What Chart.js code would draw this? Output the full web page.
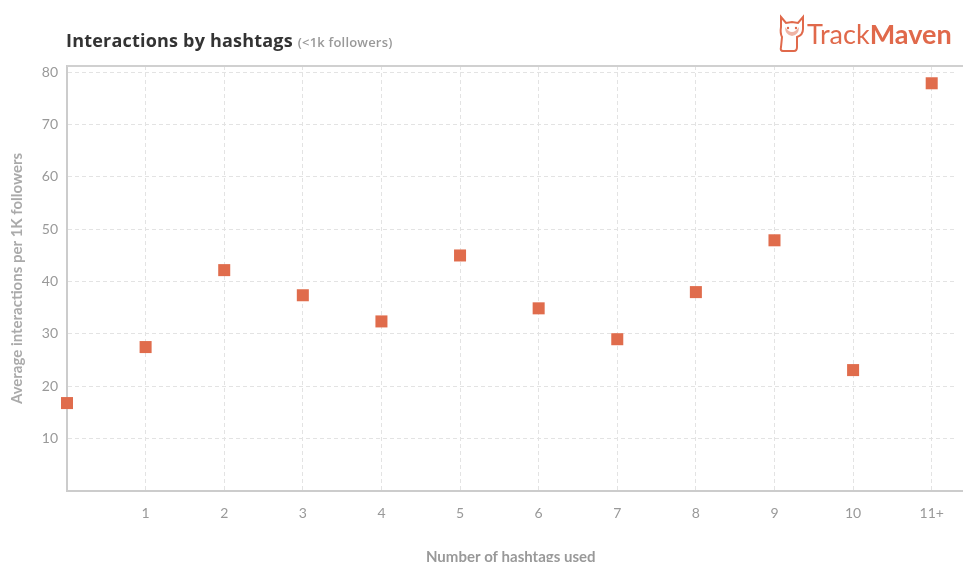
<!DOCTYPE html>
<html>
<head>
<meta charset="utf-8">
<script src="https://cdn.jsdelivr.net/npm/chart.js@4/dist/chart.umd.min.js"></script>
<style>
  body { margin: 0; background: #fff; font-family: Lato, "Open Sans", sans-serif; }
  #wrap { position: relative; width: 963px; height: 562px; overflow: hidden; }
  #title { position: absolute; left: 66px; top: 28px; font-family: "Open Sans"; font-size: 18px; font-weight: bold; color: #333; letter-spacing: 0.2px; }
  #title span { font-size: 13px; color: #999; font-weight: 600; }
  #logo { position: absolute; left: 777px; top: 13px; display: flex; align-items: center; color: #e0694b; font-size: 27px; }
  #logo b { font-weight: bold; }
  canvas { position: absolute; left: 0; top: 0; }
</style>
</head>
<body>
<div id="wrap">
  <canvas id="myChart" width="963" height="562"></canvas>
  <div id="title">Interactions by hashtags <span>(&lt;1k followers)</span></div>
  <div id="logo">
    <svg width="30" height="40" viewBox="0 0 30 40">
      <path d="M4 4 L9 10 L15 9 L21 10 L26 4 L26 16 Q26 22 20 24 L20 34 Q20 38 17 38 L6 38 Q3 38 4 34 L5 24 Q3 20 4 14 Z" fill="none" stroke="#e0694b" stroke-width="2"/>
      <path d="M8 14 Q15 24 22 14 Q22 22 15 23 Q8 22 8 14 Z" fill="#e0694b" opacity="0.5"/>
      <circle cx="11" cy="15" r="1.2" fill="#e0694b"/><circle cx="19" cy="15" r="1.2" fill="#e0694b"/>
    </svg>
    <span>Track<b>Maven</b></span>
  </div>
</div>
<script>
// data
const categories = ['0', '1', '2', '3', '4', '5', '6', '7', '8', '9', '10', '11+']
const interactions = [16.8, 27.5, 42.2, 37.4, 32.4, 45.0, 34.9, 29.0, 38.0, 47.9, 23.1, 77.9]
const yTicks = [10, 20, 30, 40, 50, 60, 70, 80]
const xTicks = [1, 2, 3, 4, 5, 6, 7, 8, 9, 10, 11]

const points = categories.map((c, i) => ({ x: i, y: interactions[i] }))

// solid line along the top of the plot, running to the page edge
const topLine = {
  id: 'topLine',
  afterDraw(chart) {
    const { ctx, chartArea } = chart
    ctx.save()
    ctx.strokeStyle = '#d0d0d0'
    ctx.lineWidth = 2
    ctx.beginPath()
    ctx.moveTo(chartArea.left, chartArea.top)
    ctx.lineTo(chart.width, chartArea.top)
    ctx.stroke()
    ctx.beginPath()
    ctx.strokeStyle = '#cccccc'
    ctx.moveTo(chartArea.right, chartArea.bottom)
    ctx.lineTo(chart.width, chartArea.bottom)
    ctx.stroke()
    ctx.restore()
  }
}

const ctx = document.querySelector('#myChart').getContext('2d')
const myChart = new Chart(ctx, {
  type: 'scatter',
  data: {
    datasets: [{
      label: 'Average interactions',
      data: points,
      pointStyle: 'rect',
      pointRadius: 8.5,
      pointHoverRadius: 8.5,
      backgroundColor: '#e06c4c',
      borderWidth: 0,
      clip: false
    }]
  },
  options: {
    responsive: false,
    animation: false,
    layout: { padding: { top: 66, right: 0, left: 0, bottom: 0 } },
    plugins: { legend: { display: false }, tooltip: { enabled: false } },
    scales: {
      x: {
        type: 'linear',
        min: 0,
        max: 11.29,
        afterBuildTicks: scale => { scale.ticks = xTicks.map(v => ({ value: v })) },
        afterFit: scale => { scale.height = 71 },
        ticks: {
          autoSkip: false,
          maxRotation: 0,
          padding: 14,
          color: '#999',
          font: { family: 'Lato', size: 14 },
          callback: v => categories[v]
        },
        grid: { color: '#e3e3e3', drawTicks: false },
        border: { color: '#cccccc', width: 2, dash: [4, 3] },
        title: {
          display: true,
          text: 'Number of hashtags used',
          color: '#999',
          font: { family: 'Lato', size: 15, weight: 'bold' },
          padding: { top: 0, bottom: -4 }
        }
      },
      y: {
        min: 0,
        max: 81.2,
        afterBuildTicks: scale => { scale.ticks = yTicks.map(v => ({ value: v })) },
        afterFit: scale => { scale.width = 67 },
        ticks: {
          padding: 9,
          color: '#999',
          font: { family: 'Lato', size: 14 }
        },
        grid: { color: '#e3e3e3', drawTicks: false },
        border: { color: '#cccccc', width: 2, dash: [4, 3] },
        title: {
          display: true,
          text: 'Average interactions per 1K followers',
          color: '#aaa',
          font: { family: 'Lato', size: 15, weight: 'bold' },
          padding: { top: 8, bottom: 0 }
        }
      }
    }
  },
  plugins: [topLine]
})
</script>
</body>
</html>
